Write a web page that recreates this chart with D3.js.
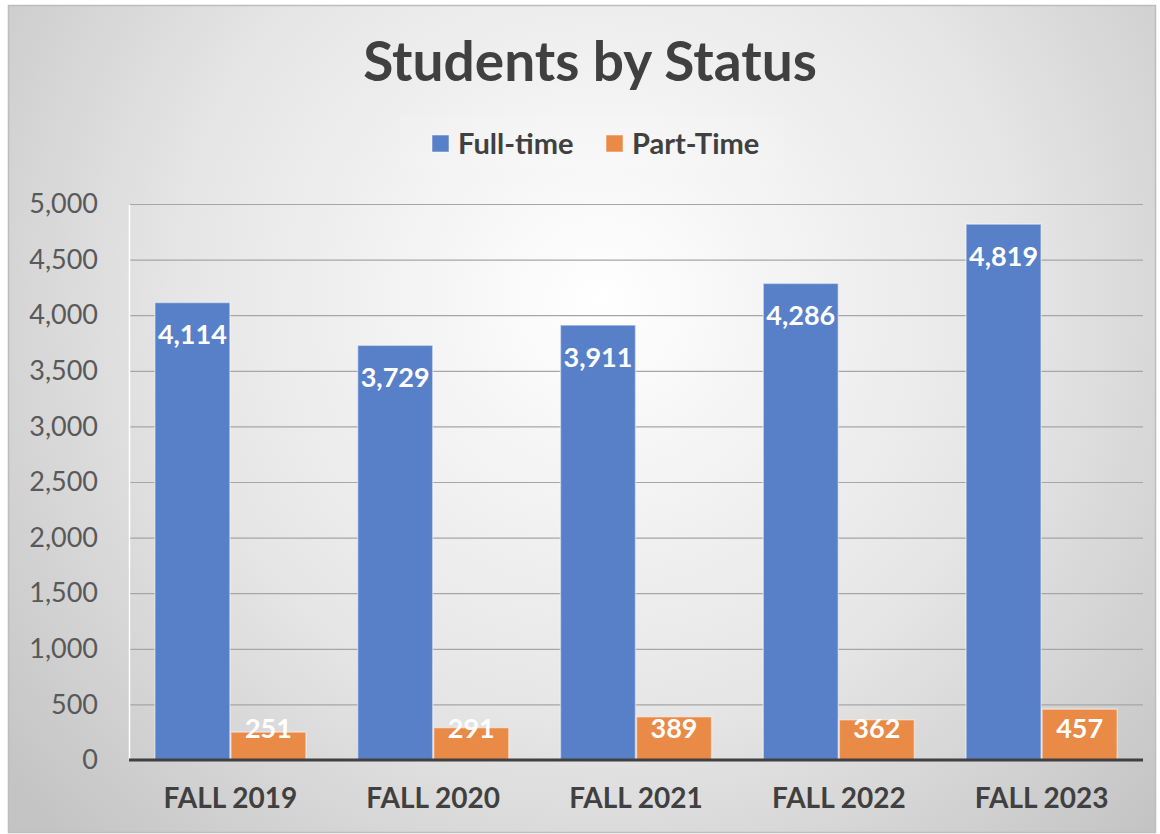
<!DOCTYPE html>
<html><head><meta charset="utf-8">
<script src="https://cdn.jsdelivr.net/npm/d3@7/dist/d3.min.js"></script>
<style>html,body{margin:0;padding:0;background:#fff;}svg{display:block;}</style>
</head><body>
<script>
const categories = ["FALL 2019","FALL 2020","FALL 2021","FALL 2022","FALL 2023"];
const seriesNames = ["Full-time","Part-Time"];
const fullTime = [4114,3729,3911,4286,4819];
const partTime = [251,291,389,362,457];
const yTicks = [0,500,1000,1500,2000,2500,3000,3500,4000,4500,5000];
const colors = ["#5880c8","#ea8a47"];

const W=1160,H=834;
const svg=d3.select("body").append("svg").attr("width",W).attr("height",H);
const defs=svg.append("defs");
const rg=defs.append("radialGradient").attr("id","bg").attr("gradientUnits","userSpaceOnUse")
  .attr("cx",600).attr("cy",300).attr("r",760);
rg.append("stop").attr("offset","0").attr("stop-color","#ffffff");
rg.append("stop").attr("offset","0.55").attr("stop-color","#e6e6e6");
rg.append("stop").attr("offset","1").attr("stop-color","#c4c4c4");
svg.append("rect").attr("width",W).attr("height",H).attr("fill","#fff");
svg.append("rect").attr("x",8.5).attr("y",5.5).attr("width",1147).attr("height",827)
  .attr("fill","url(#bg)").attr("stroke","#bdbdbd").attr("stroke-width",1.5);

const m={l:129,r:1143,t:204,b:760};
const x0=d3.scaleBand().domain(categories).range([m.l,m.r]).paddingInner(0.25).paddingOuter(0.125);
const x1=d3.scaleBand().domain(seriesNames).range([0,x0.bandwidth()]).padding(0);
const y=d3.scaleLinear().domain([0,5000]).range([m.b,m.t]);

const font="Lato, 'Open Sans', sans-serif";
// grid
svg.append("g").selectAll("line").data(yTicks.filter(d=>d>0)).join("line")
  .attr("x1",m.l).attr("x2",m.r).attr("y1",d=>y(d)+0.5).attr("y2",d=>y(d)+0.5)
  .attr("stroke","#a6a6a6").attr("stroke-width",1.2);
// y axis
const ya=svg.append("g").attr("transform",`translate(${m.l},0)`)
  .call(d3.axisLeft(y).tickValues(yTicks).tickFormat(d3.format(",")).tickSize(0).tickPadding(31));
ya.select(".domain").attr("stroke","#ffffff").attr("stroke-width",1.5);
ya.selectAll("text").attr("font-family",font).attr("font-size",27).attr("fill","#595959");

const data=categories.map((c,i)=>({c,vals:[fullTime[i],partTime[i]]}));
const g=svg.append("g").selectAll("g").data(data).join("g").attr("transform",d=>`translate(${x0(d.c)},0)`);
g.selectAll("rect").data(d=>d.vals.map((v,j)=>({k:seriesNames[j],v,j}))).join("rect")
  .attr("x",d=>x1(d.k)+0.5).attr("width",x1.bandwidth()-1)
  .attr("y",d=>y(d.v)).attr("height",d=>y(0)-y(d.v))
  .attr("fill",d=>colors[d.j]).attr("stroke","rgba(255,255,255,0.45)").attr("stroke-width",1.5);
g.selectAll("text").data(d=>d.vals.map((v,j)=>({k:seriesNames[j],v,j}))).join("text")
  .attr("x",d=>x1(d.k)+x1.bandwidth()/2)
  .attr("y",d=>Math.min(y(d.v)+32,y(0)-31))
  .attr("dy","0.35em").attr("text-anchor","middle")
  .attr("font-family",font).attr("font-weight","bold").attr("font-size",27).attr("fill","#fff")
  .text(d=>d3.format(",")(d.v));

// baseline
svg.append("line").attr("x1",m.l).attr("x2",m.r).attr("y1",y(0)).attr("y2",y(0))
  .attr("stroke","#404040").attr("stroke-width",3);

// x axis
const xa=svg.append("g").attr("transform",`translate(0,${m.b})`)
  .call(d3.axisBottom(x0).tickSize(0).tickPadding(28));
xa.select(".domain").remove();
xa.selectAll("text").attr("font-family",font).attr("font-weight","bold").attr("font-size",28).attr("fill","#404040");

// title
svg.append("text").attr("x",590).attr("y",81).attr("text-anchor","middle")
  .attr("font-family",font).attr("font-weight","bold").attr("font-size",55).attr("fill","#404040")
  .text("Students by Status");

// legend
svg.append("rect").attr("x",400).attr("y",116).attr("width",383).attr("height",54).attr("fill","rgba(255,255,255,0.12)");
const lx=[432,606];
const lg=svg.append("g").selectAll("g").data(seriesNames).join("g").attr("transform",(d,i)=>`translate(${lx[i]},135)`);
lg.append("rect").attr("width",17).attr("height",17).attr("fill",(d,i)=>colors[i]).attr("stroke","rgba(255,255,255,0.5)");
lg.append("text").attr("x",26).attr("y",8.5).attr("dy","0.35em")
  .attr("font-family",font).attr("font-weight","bold").attr("font-size",29).attr("fill","#404040").text(d=>d);
</script>
</body></html>
